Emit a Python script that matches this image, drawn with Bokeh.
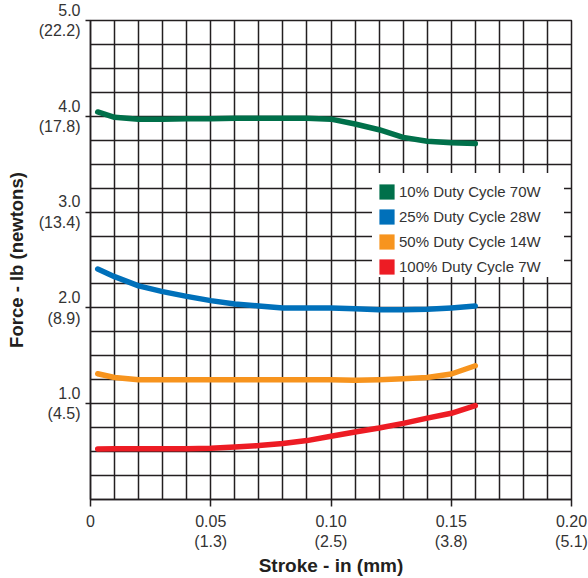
from bokeh.plotting import figure
from bokeh.models import (Range1d, FixedTicker, SingleIntervalTicker, Legend, LegendItem,
                          BoxAnnotation)
from bokeh.embed import file_html
from bokeh.resources import INLINE

# ---- data ----
stroke_in = [0.003, 0.01, 0.02, 0.03, 0.04, 0.05, 0.06, 0.07, 0.08,
             0.09, 0.10, 0.11, 0.12, 0.13, 0.14, 0.15, 0.16]
force_10 = [4.045, 3.99, 3.97, 3.97, 3.975, 3.975, 3.98, 3.98, 3.98,
            3.98, 3.97, 3.92, 3.86, 3.78, 3.74, 3.725, 3.715]
force_25 = [2.406, 2.326, 2.23, 2.17, 2.12, 2.076, 2.04, 2.02, 2.0,
            2.0, 2.0, 1.99, 1.98, 1.98, 1.985, 2.0, 2.02]
force_50 = [1.3125, 1.274, 1.25, 1.25, 1.25, 1.25, 1.25, 1.25, 1.25,
            1.25, 1.25, 1.245, 1.25, 1.26, 1.274, 1.31, 1.396]
force_100 = [0.528, 0.53, 0.53, 0.53, 0.53, 0.534, 0.549, 0.5625, 0.585,
             0.615, 0.66, 0.705, 0.746, 0.795, 0.85, 0.90, 0.98]

series_names = ["10% Duty Cycle 70W", "25% Duty Cycle 28W",
                "50% Duty Cycle 14W", "100% Duty Cycle 7W"]
series_colors = ["#00704A", "#0070BA", "#F7941E", "#ED1C24"]
series_values = [force_10, force_25, force_50, force_100]

x_ticks = [0, 0.05, 0.10, 0.15, 0.20]
x_tick_labels = ["0", "0.05\n(1.3)", "0.10\n(2.5)", "0.15\n(3.8)", "0.20\n(5.1)"]
y_ticks = [1, 2, 3, 4, 5]
y_tick_labels = ["1.0\n(4.5)", "2.0\n(8.9)", "3.0\n(13.4)", "4.0\n(17.8)", "5.0\n(22.2)"]

INK = "#231F20"
TXT = "#333333"
FONT = "Liberation Sans"
NAN = float("nan")

p = figure(width=588, height=578, x_range=Range1d(0, 0.2), y_range=Range1d(0, 5),
           output_backend="svg", toolbar_location=None,
           min_border_left=90, min_border_right=17, min_border_top=20, min_border_bottom=78)

p.background_fill_color = "white"
p.border_fill_color = "white"
p.outline_line_color = INK
p.outline_line_width = 1.5

# grid
p.xgrid.ticker = SingleIntervalTicker(interval=0.01, num_minor_ticks=0)
p.ygrid.ticker = SingleIntervalTicker(interval=0.25, num_minor_ticks=0)
for g in (p.xgrid, p.ygrid):
    g.grid_line_color = INK
    g.grid_line_width = 1.5
    g.grid_line_alpha = 1.0

# axes
p.xaxis.ticker = FixedTicker(ticks=x_ticks)
p.xaxis.major_label_overrides = dict(zip(x_ticks, x_tick_labels))
p.yaxis.ticker = FixedTicker(ticks=y_ticks)
p.yaxis.major_label_overrides = dict(zip(y_ticks, y_tick_labels))

for ax in (p.xaxis, p.yaxis):
    ax.axis_line_color = INK
    ax.axis_line_width = 1.5
    ax.major_tick_line_color = INK
    ax.major_tick_line_width = 1.5
    ax.major_tick_in = 0
    ax.minor_tick_line_color = None
    ax.major_label_text_font = FONT
    ax.major_label_text_font_size = "16px"
    ax.major_label_text_color = TXT
    ax.axis_label_text_font = FONT
    ax.axis_label_text_font_style = "bold"
    ax.axis_label_text_color = INK

p.xaxis.major_tick_out = 7
p.xaxis.major_label_standoff = 6
p.yaxis.major_tick_out = 5
p.yaxis.major_label_standoff = 5

p.xaxis.axis_label = "Stroke - in (mm)"
p.xaxis.axis_label_text_font_size = "19px"
p.xaxis.axis_label_standoff = 2
p.yaxis.axis_label = "Force - lb (newtons)"
p.yaxis.axis_label_text_font_size = "18.5px"
p.yaxis.axis_label_standoff = 9

# curves
for vals, col in zip(series_values, series_colors):
    p.line(stroke_in, vals, line_width=5.5, line_color=col,
           line_cap="round", line_join="round")

# white panel behind the legend (hides the grid there), in screen units from frame
legend_panel = BoxAnnotation(left=282, right=473, bottom=223, top=326,
                             left_units="screen", right_units="screen",
                             bottom_units="screen", top_units="screen",
                             fill_color="white", fill_alpha=1.0,
                             line_color="white", line_alpha=1.0, line_width=1,
                             level="guide", propagate_hover=False)
p.renderers.append(legend_panel)

# legend with square swatches (invisible placeholder quads)
items = []
for name, col in zip(series_names, series_colors):
    r = p.quad(left=[NAN], right=[NAN], top=[NAN], bottom=[NAN],
               fill_color=col, line_color=None)
    items.append(LegendItem(label=name, renderers=[r]))

legend = Legend(items=items, location=(287, 223),
                glyph_width=19, glyph_height=19, label_height=19,
                spacing=6, padding=4, margin=0, label_standoff=3,
                label_text_font=FONT, label_text_font_size="15px",
                label_text_color=TXT,
                background_fill_color="white", background_fill_alpha=1.0,
                border_line_color=None)
p.add_layout(legend)

open("out.html", "w").write(file_html(p, INLINE))
